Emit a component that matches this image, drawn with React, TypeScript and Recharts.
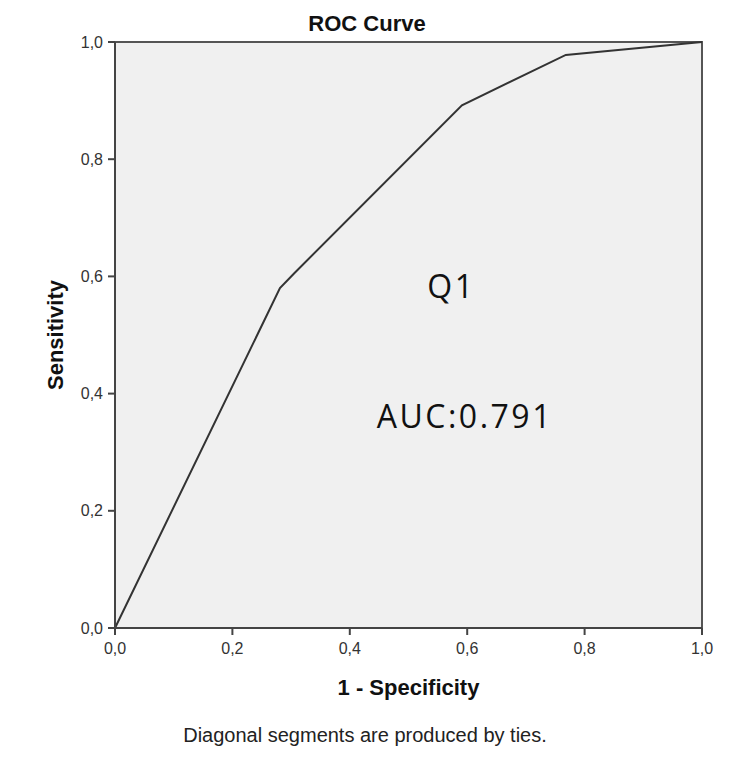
import { LineChart, Line, XAxis, YAxis, ReferenceArea, ReferenceDot, Customized } from 'recharts'

const fpr = [0, 0.281, 0.305, 0.591, 0.768, 1]
const tpr = [0, 0.58, 0.605, 0.892, 0.978, 1]
const ticks = [0, 0.2, 0.4, 0.6, 0.8, 1]
const notes = [
  { text: 'Q1', x: 0.573, y: 0.563 },
  { text: 'AUC:0.791', x: 0.596, y: 0.341 },
]

const data = fpr.map((x, i) => ({ x, y: tpr[i] }))
const fmt = (v: number) => v.toFixed(1).replace('.', ',')
const font = '"Liberation Sans", Arial, sans-serif'

export default function App() {
  return (
    <div style={{ position: 'absolute', left: 0, top: 0, background: '#fff' }}>
      <LineChart width={750} height={761} data={data} margin={{ top: 42, right: 48, left: 0, bottom: 61 }}>
        <ReferenceArea x1={0} x2={1} y1={0} y2={1} fill="#f0f0f0" fillOpacity={1} stroke="#555" strokeWidth={2} ifOverflow="visible" />
        <XAxis
          dataKey="x"
          type="number"
          domain={[0, 1]}
          ticks={ticks}
          tickFormatter={fmt}
          height={72}
          tickSize={7}
          tickMargin={8}
          axisLine={{ stroke: '#444', strokeWidth: 2 }}
          tickLine={{ stroke: '#444', strokeWidth: 2 }}
          tick={{ fill: '#333', fontSize: 16, fontFamily: font }}
          label={{ value: '1 - Specificity', position: 'insideBottom', offset: 5, fill: '#111', fontSize: 22, fontWeight: 'bold', fontFamily: font }}
        />
        <YAxis
          dataKey="y"
          type="number"
          domain={[0, 1]}
          ticks={ticks}
          tickFormatter={fmt}
          width={115}
          tickSize={7}
          tickMargin={5}
          axisLine={{ stroke: '#444', strokeWidth: 2 }}
          tickLine={{ stroke: '#444', strokeWidth: 2 }}
          tick={{ fill: '#333', fontSize: 16, fontFamily: font }}
          label={{ value: 'Sensitivity', position: 'insideLeft', angle: -90, offset: 55, fill: '#111', fontSize: 22, fontWeight: 'bold', fontFamily: font, style: { textAnchor: 'middle' } }}
        />
        <Line type="linear" dataKey="y" stroke="#333" strokeWidth={2} dot={false} isAnimationActive={false} />
        {notes.map((n) => (
          <ReferenceDot
            key={n.text}
            x={n.x}
            y={n.y}
            r={0}
            ifOverflow="visible"
            shape={(p: any) => (
              <text x={p.cx} y={p.cy} textAnchor="middle" fontSize={32} letterSpacing={2.5} fill="#111" fontFamily='"Open Sans", sans-serif'>
                {n.text}
              </text>
            )}
          />
        ))}
        <Customized
          component={() => (
            <g fontFamily={font}>
              <text x={367} y={31} textAnchor="middle" fontSize={22} fontWeight="bold" fill="#111">ROC Curve</text>
              <text x={365} y={742} textAnchor="middle" fontSize={20} fill="#222">Diagonal segments are produced by ties.</text>
            </g>
          )}
        />
      </LineChart>
    </div>
  )
}
